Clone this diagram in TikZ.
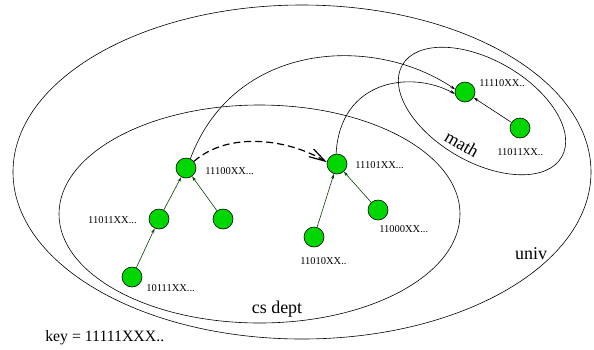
\documentclass[tikz,border=0pt]{standalone}
\usepackage{fontspec}
\setmainfont{Liberation Serif}
\usetikzlibrary{arrows.meta}
\definecolor{peergreen}{RGB}{0,214,0}
\definecolor{treegreen}{RGB}{0,70,0}

\begin{document}
\begin{tikzpicture}
  [x=1pt,y=-1pt,line width=0.6pt,
   peer/.style={circle,draw,fill=peergreen,minimum size=20pt,inner sep=0pt},
   idlabel/.style={font=\fontsize{10.5}{12}\selectfont,inner sep=0pt},
   region/.style={font=\fontsize{18}{20}\selectfont,inner sep=0pt},
   treeedge/.style={draw=treegreen,-{Stealth[length=5pt,width=3pt]}},
   link/.style={-{Stealth[length=5pt,width=3pt]}}]
  \useasboundingbox (0,0) rectangle (594,349);

  % domains
  \draw (302,172) ellipse [x radius=289, y radius=167];
  \draw (259.5,214) ellipse [x radius=200.5, y radius=109];
  \draw[rotate around={-30:(482,111)}] (482,111) ellipse [x radius=92, y radius=51];

  \node[region] (univ) at (531,254) {univ};
  \node[region] (cs) at (277,309) {cs dept};
  \node[region,rotate=-30] (math) at (462,144) {math};
  \node[font=\fontsize{15.8}{18}\selectfont,inner sep=0pt,anchor=west] (key) at (45,338) {key = 11111XXX..};

  % peers
  \node[peer] (a) at (186,168) {};
  \node[peer] (b) at (159,219) {};
  \node[peer] (c) at (223,219) {};
  \node[peer] (d) at (132,277) {};
  \node[peer] (e) at (337,164) {};
  \node[peer] (f) at (314,237) {};
  \node[peer] (g) at (378,210) {};
  \node[peer] (h) at (465,92) {};
  \node[peer] (i) at (520,128) {};

  \node[idlabel,anchor=west] (la) at (205,171) {11100XX...};
  \node[idlabel,anchor=east] (lb) at (137,220) {11011XX...};
  \node[idlabel,anchor=west] (ld) at (146,288) {10111XX...};
  \node[idlabel,anchor=west] (le) at (355,165) {11101XX...};
  \node[idlabel,anchor=west] (lf) at (300,261) {11010XX..};
  \node[idlabel,anchor=west] (lg) at (379,229) {11000XX...};
  \node[idlabel,anchor=west] (lh) at (479,83) {11110XX..};
  \node[idlabel,anchor=west] (li) at (497,152) {11011XX..};

  \foreach \from/\to in {d/b,b/a,c/a,f/e,g/e}
    \draw[treeedge] (\from) -- (\to);
  \draw[link] (i) -- (h);

  % long links
  \draw[link] (a.65) .. controls (235,40) and (375,35) .. (h.165);
  \draw[link] (e.95) .. controls (340,80) and (410,70) .. (h.190);
  \draw[line width=1.2pt,dash pattern=on 7pt off 4pt,-{Straight Barb[length=16pt,width=9pt]}]
    (a.40) .. controls (230,130) and (290,140) .. (e.170);

\end{tikzpicture}
\end{document}
